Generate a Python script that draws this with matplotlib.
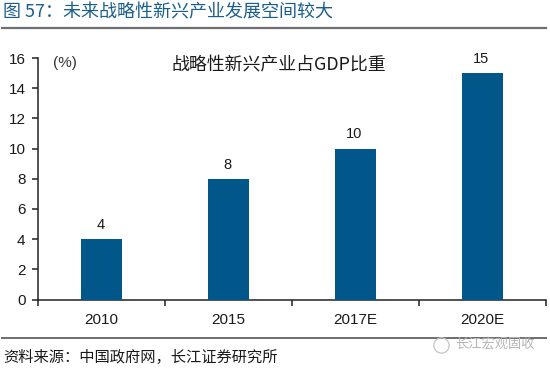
# -*- coding: utf-8 -*-
import matplotlib
matplotlib.use("Agg")
import matplotlib.pyplot as plt
from matplotlib.lines import Line2D

CATEGORIES = ["2010", "2015", "2017E", "2020E"]
VALUES = [4, 8, 10, 15]
Y_TICKS = [0, 2, 4, 6, 8, 10, 12, 14, 16]

BLUE = "#01578A"
TITLE_C = "#1B5E8C"
RULE = "#6E6E6E"
INK = "#1A1A1A"

plt.rcParams["font.family"] = ["Liberation Sans", "Noto Sans CJK SC", "DejaVu Sans"]
CJK = ["Noto Sans CJK SC", "DejaVu Sans"]

W, H = 550, 369
fig = plt.figure(figsize=(W / 100, H / 100), dpi=100, facecolor="white")
ax = fig.add_axes([38 / W, 1 - 299.5 / H, 508 / W, 241.5 / H])


def fx(px):
    return px / W


def fy(py):
    return 1 - py / H


ax.bar(range(len(VALUES)), VALUES, width=0.325, color=BLUE, zorder=3)
for i, v in enumerate(VALUES):
    ax.text(i - 0.01, v + 0.48, str(v), ha="center", va="bottom", fontsize=10.5, color=INK)

ax.set_xlim(-0.5, 3.5)
ax.set_ylim(0, 16)
ax.set_yticks(Y_TICKS)
ax.set_xticks([-0.5, 0.5, 1.5, 2.5, 3.5])
ax.set_xticklabels([])
ax.tick_params(axis="both", length=4, width=1.1, color="#222222")
ax.tick_params(axis="y", labelsize=11, labelcolor=INK, pad=5)
for i, c in enumerate(CATEGORIES):
    ax.annotate(c, (i, 0), xycoords=("data", "axes fraction"), xytext=(0, -9.5),
                textcoords="offset points", ha="center", va="top",
                fontsize=11, color=INK)
for s in ("top", "right"):
    ax.spines[s].set_visible(False)
for s in ("left", "bottom"):
    ax.spines[s].set_linewidth(1.1)
    ax.spines[s].set_color("#222222")

fig.text(fx(3), fy(12.5), "图 57：未来战略性新兴产业发展空间较大", fontsize=13,
         color=TITLE_C, va="center", ha="left", family=CJK)
fig.text(fx(53), fy(63), "(%)", fontsize=11, color="#333333", va="center", ha="left")
fig.text(fx(279), fy(65), "战略性新兴产业占GDP比重", fontsize=12.9, color=INK,
         va="center", ha="center", family=CJK)
fig.text(fx(3), fy(357), "资料来源：中国政府网，长江证券研究所", fontsize=11,
         color=INK, va="center", ha="left", family=CJK)

fig.add_artist(Line2D([fx(2), fx(546)], [fy(27.5), fy(27.5)], color=RULE, lw=1.6))
fig.add_artist(Line2D([fx(2), fx(546)], [fy(337.5), fy(337.5)], color=RULE, lw=1.4))

# 水印
fig.text(fx(455), fy(344), "长江宏观固收", fontsize=9.5, color="#B4B4B4",
         va="center", ha="left", family=CJK)
fig.add_artist(Line2D([fx(441)], [fy(345)], marker="o", ms=11, mfc="none",
                      mec="#C4C4C4", mew=0.9, ls="none"))

fig.savefig("out.png", dpi=100)
